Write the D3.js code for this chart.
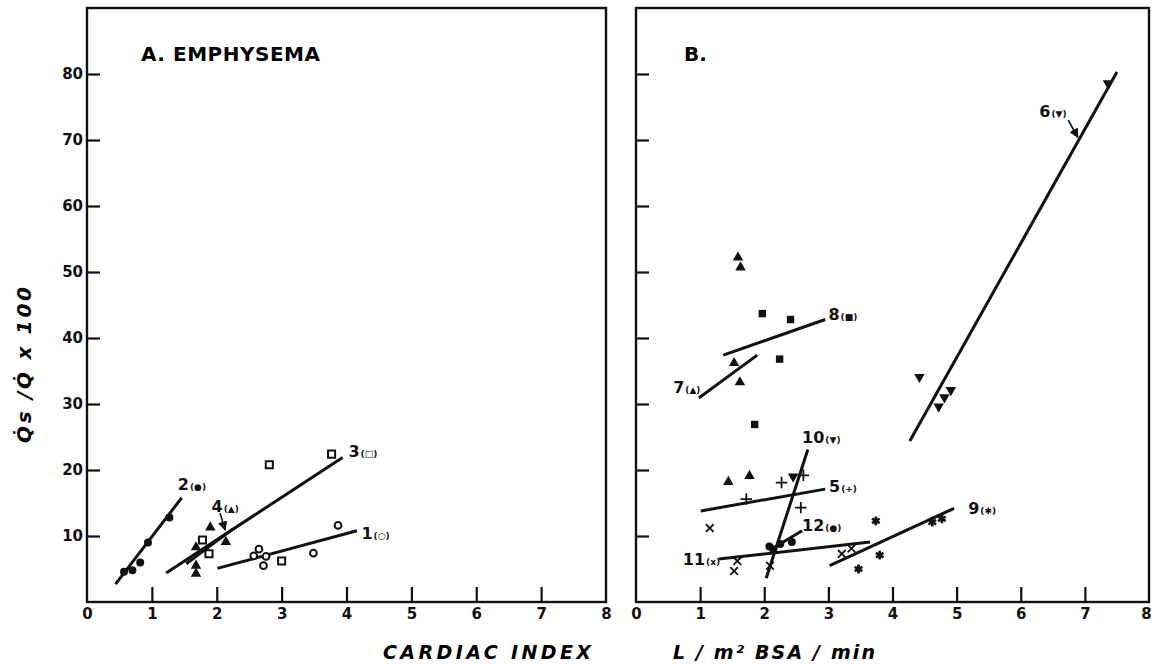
<!DOCTYPE html>
<html>
<head>
<meta charset="utf-8">
<script src="https://cdn.jsdelivr.net/npm/d3@7"></script>
<style>
  body { margin: 0; background: #fff; }
  svg { display: block; font-family: "DejaVu Sans", sans-serif; }
  .tick line { stroke: #111; stroke-width: 2.2; }
  .fit { fill: none; stroke: #111; stroke-width: 3; }
  .lbl { font-weight: bold; fill: #111; }
</style>
</head>
<body>
<svg id="chart" width="1153" height="666"></svg>
<script>
// tick values
const xTickValues = [0, 1, 2, 3, 4, 5, 6, 7, 8];
const yTickValues = [10, 20, 30, 40, 50, 60, 70, 80];

// A. emphysema  -  [cardiac index, Qs/Q x 100]
const a1Points = [[2.57, 7.0], [2.65, 8.0], [2.72, 5.5], [2.76, 6.9], [3.49, 7.4], [3.87, 11.6]];
const a2Points = [[0.57, 4.6], [0.70, 4.8], [0.82, 6.0], [0.94, 9.0], [1.27, 12.8]];
const a3Points = [[1.78, 9.4], [1.88, 7.3], [2.81, 20.8], [3.00, 6.2], [3.77, 22.4]];
const a4Points = [[1.90, 11.3], [1.68, 8.3], [1.68, 5.5], [1.68, 4.3], [2.14, 9.1]];

const a1Fit = [[2.01, 5.1], [4.16, 10.8]];
const a2Fit = [[0.44, 2.7], [1.46, 15.8]];
const a3Fit = [[1.22, 4.4], [3.94, 21.9]];
const a4Fit = [[1.53, 5.8], [2.24, 11.0]];

// B.
const b5Points = [[1.72, 15.6], [2.27, 18.1], [2.57, 14.3], [2.61, 19.2]];
const b6Points = [[4.42, 34.1], [4.72, 29.6], [4.81, 31.0], [4.91, 32.1], [7.36, 78.6]];
const b7Points = [[1.44, 18.2], [1.77, 19.1], [1.53, 36.2], [1.62, 33.3], [1.59, 52.2], [1.63, 50.7]];
const b8Points = [[1.85, 26.9], [1.97, 43.7], [2.24, 36.8], [2.41, 42.8]];
const b9Points = [[3.47, 5.0], [3.74, 12.3], [3.80, 7.1], [4.62, 12.1], [4.77, 12.6]];
const b10Points = [[2.45, 19.0]];
const b11Points = [[1.15, 11.2], [1.53, 4.7], [1.58, 6.2], [2.09, 5.5], [3.21, 7.3], [3.36, 8.1]];
const b12Points = [[2.08, 8.4], [2.14, 8.0], [2.25, 8.8], [2.43, 9.1]];

const b5Fit = [[1.01, 13.8], [2.95, 17.1]];
const b6Fit = [[4.27, 24.4], [7.50, 80.3]];
const b7Fit = [[0.98, 30.9], [1.89, 37.4]];
const b8Fit = [[1.36, 37.4], [2.95, 42.8]];
const b9Fit = [[3.02, 5.5], [4.96, 14.2]];
const b10Fit = [[2.03, 3.6], [2.68, 23.1]];
const b11Fit = [[1.29, 6.5], [3.65, 9.1]];
const b12Fit = [[2.18, 8.4], [2.59, 10.8]];

// line labels: number, marker glyph, anchor in data units
const aLabels = [
  { num: '1', sym: '○', at: [4.23, 9.5] },
  { num: '2', sym: '●', at: [1.40, 17.0] },
  { num: '3', sym: '□', at: [4.03, 22.0] },
  { num: '4', sym: '▲', at: [1.92, 13.6] }
];
const bLabels = [
  { num: '5', sym: '+', at: [3.01, 16.7] },
  { num: '6', sym: '▼', at: [6.29, 73.5] },
  { num: '7', sym: '▲', at: [0.58, 31.7] },
  { num: '8', sym: '■', at: [3.00, 42.7] },
  { num: '9', sym: '✱', at: [5.18, 13.3] },
  { num: '10', sym: '▼', at: [2.59, 24.1] },
  { num: '11', sym: 'x', at: [0.73, 5.6] },
  { num: '12', sym: '●', at: [2.59, 10.8] }
];
const aArrows = [[[2.05, 13.5], [2.13, 10.9]]];
const bArrows = [[[6.74, 73.0], [6.89, 70.4]]];

const svg = d3.select('#chart');
const y = d3.scaleLinear().domain([0, 90]).range([602, 8]);
const xA = d3.scaleLinear().domain([0, 8]).range([87, 606]);
const xB = d3.scaleLinear().domain([0, 8]).range([636, 1149]);

svg.append('defs').append('marker')
  .attr('id', 'head')
  .attr('viewBox', '0 0 10 10')
  .attr('refX', 9).attr('refY', 5)
  .attr('markerWidth', 6).attr('markerHeight', 6)
  .attr('orient', 'auto')
  .append('path').attr('d', 'M0,0 L10,5 L0,10 z').attr('fill', '#111');

const sym = {
  openCircle: { type: d3.symbolCircle, size: 36, fill: '#fff', stroke: 2 },
  dot: { type: d3.symbolCircle, size: 50, fill: '#111', stroke: 0 },
  openSquare: { type: d3.symbolSquare, size: 50, fill: '#fff', stroke: 2 },
  triangle: { type: d3.symbolTriangle, size: 48, fill: '#111', stroke: 0 },
  triangleDown: { type: d3.symbolTriangle, size: 48, fill: '#111', stroke: 0, rot: 180 },
  square: { type: d3.symbolSquare, size: 55, fill: '#111', stroke: 0 },
  plus: { type: d3.symbolPlus || d3.symbolCross, size: 45, fill: 'none', stroke: 1.8 },
  times: { type: d3.symbolTimes || d3.symbolCross, size: 40, fill: 'none', stroke: 1.8 },
  star: { type: d3.symbolAsterisk || d3.symbolStar, size: 55, fill: 'none', stroke: 2.6 }
};

function styleTicks(axisG) {
  axisG.attr('font-family', null).attr('font-size', null);
  axisG.selectAll('.tick text')
    .style('font-family', '"DejaVu Sans", sans-serif')
    .style('font-size', '15px')
    .style('font-weight', 'bold')
    .attr('fill', '#111');
}

function drawPanel(x, showYLabels) {
  const g = svg.append('g');

  g.append('rect')
    .attr('x', x(0)).attr('y', y(90))
    .attr('width', x(8) - x(0)).attr('height', y(0) - y(90))
    .attr('fill', 'none').attr('stroke', '#111').attr('stroke-width', 2.4);

  const yAxis = g.append('g')
    .attr('transform', `translate(${x(0)},0)`)
    .call(d3.axisLeft(y).tickValues(yTickValues)
      .tickSizeInner(-13).tickSizeOuter(0).tickPadding(4)
      .tickFormat(showYLabels ? d3.format('d') : ''));
  yAxis.select('.domain').remove();
  styleTicks(yAxis);

  const xAxis = g.append('g')
    .attr('transform', `translate(0,${y(0)})`)
    .call(d3.axisBottom(x).tickValues(xTickValues)
      .tickSizeInner(-15).tickSizeOuter(0).tickPadding(6));
  xAxis.select('.domain').remove();
  xAxis.selectAll('.tick').filter(d => d === 0 || d === 8).select('line').remove();
  styleTicks(xAxis);

  return { g, xAxis };
}

function drawFit(g, x, pts) {
  g.append('path').attr('class', 'fit')
    .attr('d', d3.line().x(d => x(d[0])).y(d => y(d[1]))(pts));
}

function drawPoints(g, x, pts, s) {
  g.selectAll(null).data(pts).enter().append('path')
    .attr('d', d3.symbol().type(s.type).size(s.size))
    .attr('transform', d => `translate(${x(d[0])},${y(d[1])})` + (s.rot ? ` rotate(${s.rot})` : ''))
    .attr('fill', s.fill)
    .attr('stroke', s.stroke ? '#111' : 'none')
    .attr('stroke-width', s.stroke);
}

function drawLabels(g, x, labels) {
  labels.forEach(l => {
    const t = g.append('text').attr('class', 'lbl')
      .attr('x', x(l.at[0])).attr('y', y(l.at[1]));
    t.append('tspan').attr('font-size', 16).text(l.num);
    t.append('tspan').attr('font-size', 9).attr('dx', 1).text(`(${l.sym})`);
  });
}

function drawArrows(g, x, arrows) {
  arrows.forEach(a => {
    g.append('line')
      .attr('x1', x(a[0][0])).attr('y1', y(a[0][1]))
      .attr('x2', x(a[1][0])).attr('y2', y(a[1][1]))
      .attr('stroke', '#111').attr('stroke-width', 1.6)
      .attr('marker-end', 'url(#head)');
  });
}

// panel A
const panelA = drawPanel(xA, true);
const gA = panelA.g;
[a1Fit, a2Fit, a3Fit, a4Fit].forEach(f => drawFit(gA, xA, f));
drawPoints(gA, xA, a1Points, sym.openCircle);
drawPoints(gA, xA, a2Points, sym.dot);
drawPoints(gA, xA, a3Points, sym.openSquare);
drawPoints(gA, xA, a4Points, sym.triangle);
drawLabels(gA, xA, aLabels);
drawArrows(gA, xA, aArrows);

gA.append('text')
  .attr('x', 141).attr('y', 61)
  .attr('font-size', 20).attr('font-weight', 'bold')
  .attr('textLength', 179).attr('lengthAdjust', 'spacing')
  .text('A.  EMPHYSEMA');

// panel B
const panelB = drawPanel(xB, false);
const gB = panelB.g;
// last tick label sits at the page edge, nudge it in
panelB.xAxis.selectAll('.tick').filter(d => d === 8).select('text').attr('dx', -3);
[b5Fit, b6Fit, b7Fit, b8Fit, b9Fit, b10Fit, b11Fit, b12Fit].forEach(f => drawFit(gB, xB, f));
drawPoints(gB, xB, b5Points, sym.plus);
drawPoints(gB, xB, b6Points, sym.triangleDown);
drawPoints(gB, xB, b7Points, sym.triangle);
drawPoints(gB, xB, b8Points, sym.square);
drawPoints(gB, xB, b9Points, sym.star);
drawPoints(gB, xB, b10Points, sym.triangleDown);
drawPoints(gB, xB, b11Points, sym.times);
drawPoints(gB, xB, b12Points, sym.dot);
drawLabels(gB, xB, bLabels);
drawArrows(gB, xB, bArrows);

gB.append('text')
  .attr('x', 684).attr('y', 61)
  .attr('font-size', 20).attr('font-weight', 'bold')
  .text('B.');

// axis titles
svg.append('text')
  .attr('x', 383).attr('y', 659)
  .attr('font-size', 19).attr('font-weight', 'bold').attr('font-style', 'italic')
  .attr('textLength', 208).attr('lengthAdjust', 'spacing')
  .text('CARDIAC  INDEX');

svg.append('text')
  .attr('x', 673).attr('y', 659)
  .attr('font-size', 19).attr('font-weight', 'bold').attr('font-style', 'italic')
  .attr('textLength', 202).attr('lengthAdjust', 'spacing')
  .text('L / m² BSA / min');

svg.append('text')
  .attr('transform', 'translate(31,443) rotate(-90)')
  .attr('font-size', 20).attr('font-weight', 'bold').attr('font-style', 'italic')
  .attr('textLength', 156).attr('lengthAdjust', 'spacing')
  .text('Q̇s /Q̇  x 100');
</script>
</body>
</html>
